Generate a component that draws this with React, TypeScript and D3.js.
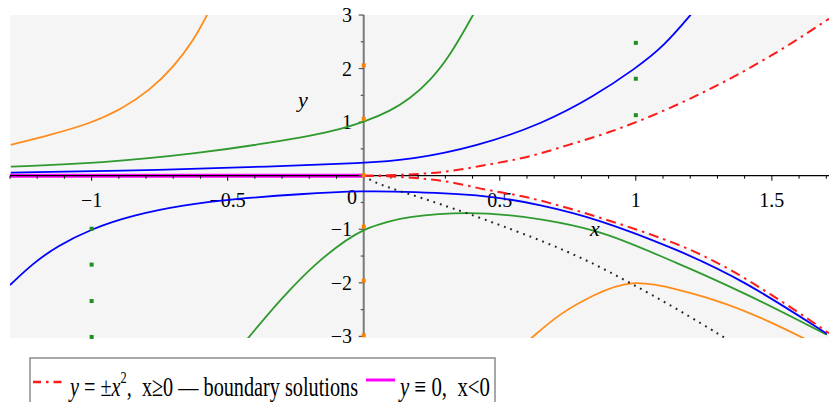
import React from 'react'
import * as d3 from 'd3'

// solution curves, [x, y]
const orangeUpper = [[-1.297, 0.575], [-1.151, 0.761], [-1.004, 0.979], [-0.894, 1.228], [-0.784, 1.601], [-0.698, 2.035], [-0.624, 2.534], [-0.573, 3.03]]
const greenUpper = [[-1.297, 0.17], [-0.967, 0.233], [-0.6, 0.42], [-0.355, 0.606], [-0.171, 0.769], [-0.087, 0.87], [0.001, 1.002], [0.097, 1.204], [0.17, 1.437], [0.244, 1.773], [0.317, 2.234], [0.405, 3.03]]
const blueUpper = [[-1.297, 0.058], [-0.722, 0.108], [-0.355, 0.17], [0.003, 0.233], [0.171, 0.295], [0.416, 0.543], [0.661, 0.979], [0.845, 1.476], [1.0, 2.006], [1.102, 2.409], [1.206, 3.03]]
const blueLower = [[-1.3, -2.04], [-1.214, -1.63], [-1.128, -1.32], [-1.002, -0.993], [-0.847, -0.735], [-0.663, -0.546], [-0.479, -0.436], [-0.234, -0.34], [0.001, -0.282], [0.17, -0.299], [0.452, -0.36], [0.648, -0.54], [0.856, -0.8], [1.15, -1.37], [1.395, -1.95], [1.702, -2.95]]
const greenLower = [[-0.428, -3.05], [-0.294, -2.256], [-0.171, -1.632], [0.003, -1.011], [0.085, -0.865], [0.171, -0.775], [0.38, -0.7], [0.661, -0.825], [0.857, -1.043], [1.151, -1.632], [1.396, -2.192], [1.702, -2.97]]
const orangeLower = [[0.612, -3.05], [0.722, -2.565], [0.845, -2.224], [0.979, -1.93], [1.151, -2.11], [1.335, -2.38], [1.518, -2.78], [1.65, -3.12]]
const dotted = [[0, 0], [0.03, -0.1], [0.08, -0.2], [0.14, -0.3], [0.21, -0.41], [0.28, -0.53], [0.38, -0.7], [0.5, -0.92], [0.675, -1.254], [0.83, -1.6], [0.979, -2.0], [1.15, -2.48], [1.328, -3.03]]

// boundary solutions
const boundX = [0, 0.15, 0.3, 0.45, 0.6, 0.75, 0.9, 1.05, 1.2, 1.35, 1.5, 1.71]
const boundUpper = [0, 0.02, 0.075, 0.2, 0.35, 0.57, 0.81, 1.1, 1.44, 1.82, 2.25, 2.93]
const boundLower = [0, -0.03, -0.105, -0.26, -0.404, -0.603, -0.836, -1.089, -1.383, -1.765, -2.23, -2.94]
const zeroLine = [[-1.3, 0], [0, 0]]

// initial points
const orangePts = [[0, 2.06], [0, 1.06], [0, 0.01], [0, -0.95], [0, -1.96], [0, -2.98]]
const greenPts = [[1, 2.48], [1, 1.81], [1, 1.13], [-1, -0.99], [-1, -1.66], [-1, -2.34], [-1, -3.01]]

const xTicks = [-1, -0.5, 0.5, 1, 1.5]
const xTickLabels = ['−1', '−0.5', '0.5', '1', '1.5']
const yTicks = [-3, -2, -1, 1, 2, 3]
const yTickLabels = ['−3', '−2', '−1', '1', '2', '3']

export default function App() {
  const W = 829, H = 402
  const x = d3.scaleLinear().domain([-1.3, 1.71]).range([10, 829])
  const y = d3.scaleLinear().domain([-3.03, 3]).range([338, 15])
  const line = d3.line<number[]>().x(d => x(d[0])).y(d => y(d[1])).curve(d3.curveBasis)
  const straight = d3.line<number[]>().x(d => x(d[0])).y(d => y(d[1])).curve(d3.curveMonotoneX)
  const gap = d3.area<number>()
    .x(d => x(d))
    .y0((d, i) => y(boundLower[i]))
    .y1((d, i) => y(boundUpper[i]))
    .curve(d3.curveMonotoneX)
  const upper = boundX.map((v, i) => [v, boundUpper[i]])
  const lower = boundX.map((v, i) => [v, boundLower[i]])

  const minorX = d3.range(-13, 18).map(i => i / 10)
  const minorY = d3.range(-6, 7).map(i => i / 2)
  const font = 'Liberation Serif, Times New Roman, serif'
  const x0 = x(0), y0 = y(0)

  return (
    <svg width={W} height={H} style={{ position: 'absolute', left: 0, top: 0, background: '#fff' }} fontFamily={font}>
      <defs>
        <clipPath id="plot"><rect x={10} y={15} width={819} height={323} /></clipPath>
      </defs>
      <rect x={10} y={15} width={819} height={323} fill="#f5f5f5" />
      <path d={gap(boundX) || ''} fill="#fff" clipPath="url(#plot)" />

      <path d={straight(zeroLine) || ''} stroke="#ff00ff" strokeWidth={4} fill="none" />

      {/* x axis */}
      <line x1={10} x2={829} y1={y0} y2={y0} stroke="#000" strokeWidth={1.2} />
      {minorX.map(t => {
        const major = Math.abs(t * 2 - Math.round(t * 2)) < 1e-6
        return <line key={'mx' + t} x1={x(t)} x2={x(t)} y1={y0} y2={y0 + (major ? 5 : 3)} stroke="#000" strokeWidth={1} />
      })}
      {xTicks.map((t, i) => (
        <text key={'xl' + t} x={x(t)} y={207} fontSize={20} textAnchor="middle">{xTickLabels[i]}</text>
      ))}
      <text x={352} y={204} fontSize={20} textAnchor="middle">0</text>

      {/* y axis */}
      <line x1={x0} x2={x0} y1={y(3)} y2={y(-3)} stroke="#7a7a7a" strokeWidth={2} />
      {minorY.map(t => {
        const major = Number.isInteger(t)
        return <line key={'my' + t} x1={x0 - (major ? 5 : 3)} x2={x0} y1={y(t)} y2={y(t)} stroke="#555" strokeWidth={1.2} />
      })}
      {yTicks.map((t, i) => (
        <text key={'yl' + t} x={352} y={y(t) + 7} fontSize={20} textAnchor="end">{yTickLabels[i]}</text>
      ))}

      <g clipPath="url(#plot)" fill="none" strokeWidth={1.8}>
        <path d={line(orangeUpper) || ''} stroke="#ff8c1a" />
        <path d={line(orangeLower) || ''} stroke="#ff8c1a" />
        <path d={line(greenUpper) || ''} stroke="#2e9a2e" />
        <path d={straight(greenLower) || ''} stroke="#2e9a2e" />
        <path d={line(blueUpper) || ''} stroke="#0000ff" />
        <path d={line(blueLower) || ''} stroke="#0000ff" />
        <path d={line(dotted) || ''} stroke="#222" strokeDasharray="1.8 5" strokeWidth={2} />
        <path d={straight(upper) || ''} stroke="#ff1a1a" strokeDasharray="10 5 2.5 5" strokeWidth={2} />
        <path d={straight(lower) || ''} stroke="#ff1a1a" strokeDasharray="10 5 2.5 5" strokeWidth={2} />
      </g>

      {orangePts.map((p, i) => (
        <rect key={'op' + i} x={x(p[0]) - 2} y={y(p[1]) - 2} width={4} height={4} fill="#ff8000" />
      ))}
      {greenPts.map((p, i) => (
        <rect key={'gp' + i} x={x(p[0]) - 2} y={y(p[1]) - 2} width={4} height={4} fill="#1f8f1f" />
      ))}

      <text x={298} y={107} fontSize={22} fontStyle="italic">y</text>
      <text x={590} y={236} fontSize={22} fontStyle="italic">x</text>

      {/* legend */}
      <rect x={30} y={358} width={465} height={60} fill="#fff" stroke="#8c8c8c" strokeWidth={1.5} />
      <line x1={33} x2={62} y1={382} y2={382} stroke="#ff1a1a" strokeWidth={2.5} strokeDasharray="8 5 2.5 5" />
      <text x={70} y={396} fontSize={28} textLength={288} lengthAdjust="spacingAndGlyphs" style={{ whiteSpace: 'pre' }}>
        <tspan fontStyle="italic">y</tspan>{' = ±'}<tspan fontStyle="italic">x</tspan>
        <tspan dy={-13} fontSize={17}>2</tspan>
        <tspan dy={13}>{',  x≥0 — boundary solutions'}</tspan>
      </text>
      <line x1={366} x2={395} y1={380} y2={380} stroke="#ff00ff" strokeWidth={3} />
      <text x={400} y={396} fontSize={28} textLength={90} lengthAdjust="spacingAndGlyphs" style={{ whiteSpace: 'pre' }}>
        <tspan fontStyle="italic">y</tspan>{' ≡ 0,  x<0'}
      </text>
    </svg>
  )
}
